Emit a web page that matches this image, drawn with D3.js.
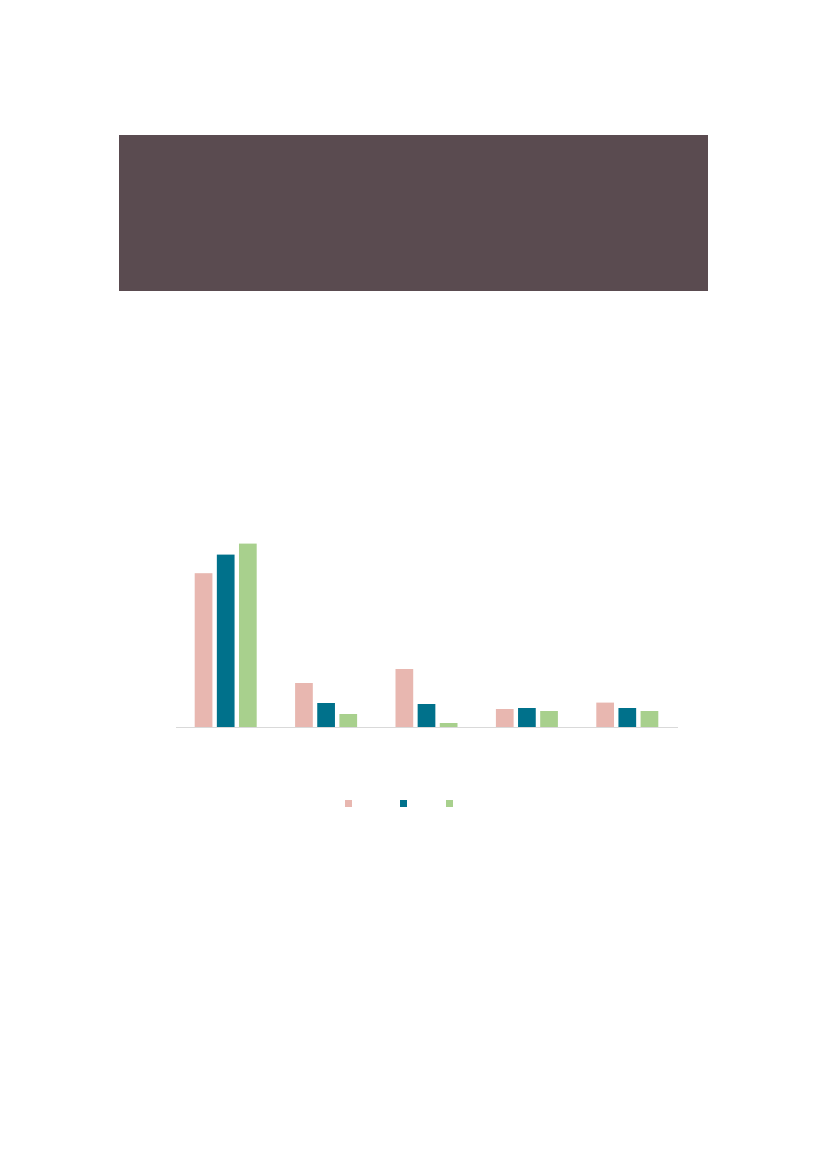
<!DOCTYPE html>
<html>
<head>
<meta charset="utf-8">
<script src="https://cdn.jsdelivr.net/npm/d3@7"></script>
<style>
html,body{margin:0;padding:0;background:#fff;}
svg{display:block;}
</style>
</head>
<body>
<script>
// Data (no visible text in the reference)
const categories = ["1", "2", "3", "4", "5"];
const seriesNames = ["A", "B", "C"];
const seriesA = [76.9, 22.0, 29.0, 9.0, 12.2];
const seriesB = [86.2, 12.0, 11.5, 9.5, 9.5];
const seriesC = [91.7, 6.5, 2.0, 8.0, 8.0];
const seriesColors = ["#e8b7b0", "#00718b", "#a8d08d"];

const W = 827, H = 1169;
const svg = d3.select("body").append("svg").attr("width", W).attr("height", H);

// Header block
svg.append("rect").attr("x", 119).attr("y", 135).attr("width", 589).attr("height", 156).attr("fill", "#5a4b50");

// Chart
const left = 175.5, right = 677.5, baseline = 727;
const groupW = 62;
const x0 = d3.scaleBand().domain(categories).range([left, right]).paddingInner(0).paddingOuter(0);
const x1 = d3.scaleBand().domain(seriesNames).range([0, groupW]).paddingInner(0.2).paddingOuter(0);
const y = d3.scaleLinear().domain([0, 100]).range([baseline, baseline - 200]);

const allSeries = [seriesA, seriesB, seriesC];
const rows = [];
categories.forEach((c, i) => {
  seriesNames.forEach((s, j) => rows.push({c, s, v: allSeries[j][i], color: seriesColors[j]}));
});

const inner = (x0.bandwidth() - groupW) / 2;
svg.append("g").selectAll("rect").data(rows).join("rect")
  .attr("x", d => x0(d.c) + inner + x1(d.s))
  .attr("y", d => y(d.v))
  .attr("width", x1.bandwidth())
  .attr("height", d => y(0) - y(d.v))
  .attr("fill", d => d.color);

// Axis baseline
const axis = svg.append("g").attr("transform", `translate(0,${baseline})`)
  .call(d3.axisBottom(x0).tickSize(0).tickFormat(""));
axis.select(".domain").attr("stroke", "#d9d9d9").attr("stroke-width", 1.2);

// Legend (markers only)
const legendX = [345, 400, 446];
svg.append("g").selectAll("rect").data(seriesNames).join("rect")
  .attr("x", (d, i) => legendX[i])
  .attr("y", 800)
  .attr("width", 7)
  .attr("height", 7)
  .attr("fill", (d, i) => seriesColors[i]);
</script>
</body>
</html>
